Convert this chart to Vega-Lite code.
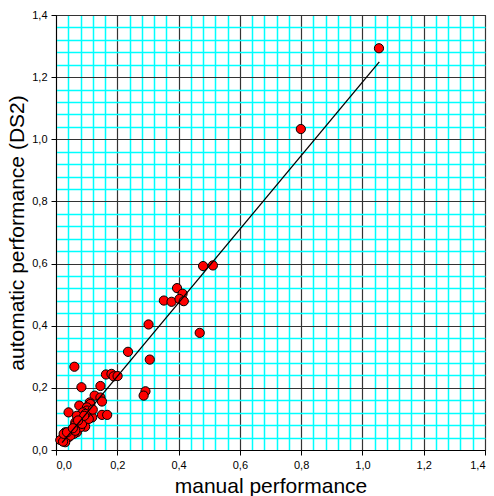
{
  "$schema": "https://vega.github.io/schema/vega-lite/v6.json",
  "autosize": "none",
  "width": 429,
  "height": 435,
  "padding": {"left": 56, "top": 15, "right": 9, "bottom": 46},
  "background": "white",
  "config": {
    "view": {"stroke": "black", "strokeWidth": 1},
    "font": "Liberation Sans",
    "axis": {
      "grid": true,
      "tickCount": 200,
      "gridColor": {"condition": {"test": "abs(datum.value*5 - round(datum.value*5)) < 0.001", "value": "#333333"}, "value": "#00FFFF"},
      "gridWidth": {"condition": {"test": "abs(datum.value*5 - round(datum.value*5)) < 0.001", "value": 1.2}, "value": 1.5},
      "gridOpacity": 1,
      "tickOpacity": {"condition": {"test": "abs(datum.value*5 - round(datum.value*5)) < 0.001", "value": 1}, "value": 0},
      "tickColor": "black",
      "tickSize": 5,
      "domainColor": "black",
      "labelExpr": "abs(datum.value*5 - round(datum.value*5)) < 0.001 ? replace(format(datum.value, '.1f'), '.', ',') : ''",
      "labelFontSize": 11,
      "labelColor": "black",
      "labelPadding": 4,
      "titleFontSize": 21,
      "titleFontWeight": "normal",
      "titleColor": "black",
      "labelOverlap": false
    }
  },
  "layer": [
    {
      "data": {"values": [
        {"manual": 1.054, "automatic": 1.293}, {"manual": 0.799, "automatic": 1.033},
        {"manual": 0.480, "automatic": 0.592}, {"manual": 0.512, "automatic": 0.594},
        {"manual": 0.395, "automatic": 0.521}, {"manual": 0.413, "automatic": 0.503},
        {"manual": 0.352, "automatic": 0.481}, {"manual": 0.377, "automatic": 0.477},
        {"manual": 0.403, "automatic": 0.486}, {"manual": 0.417, "automatic": 0.479},
        {"manual": 0.469, "automatic": 0.377}, {"manual": 0.302, "automatic": 0.404},
        {"manual": 0.235, "automatic": 0.316}, {"manual": 0.306, "automatic": 0.291},
        {"manual": 0.292, "automatic": 0.189}, {"manual": 0.286, "automatic": 0.175},
        {"manual": 0.060, "automatic": 0.268}, {"manual": 0.163, "automatic": 0.243},
        {"manual": 0.181, "automatic": 0.245}, {"manual": 0.188, "automatic": 0.237},
        {"manual": 0.201, "automatic": 0.238}, {"manual": 0.083, "automatic": 0.202},
        {"manual": 0.145, "automatic": 0.206}, {"manual": 0.126, "automatic": 0.175},
        {"manual": 0.145, "automatic": 0.169}, {"manual": 0.150, "automatic": 0.156},
        {"manual": 0.110, "automatic": 0.153}, {"manual": 0.076, "automatic": 0.143},
        {"manual": 0.107, "automatic": 0.143}, {"manual": 0.112, "automatic": 0.148},
        {"manual": 0.101, "automatic": 0.137}, {"manual": 0.101, "automatic": 0.127},
        {"manual": 0.041, "automatic": 0.121}, {"manual": 0.088, "automatic": 0.121},
        {"manual": 0.068, "automatic": 0.110}, {"manual": 0.118, "automatic": 0.105},
        {"manual": 0.103, "automatic": 0.105}, {"manual": 0.150, "automatic": 0.113},
        {"manual": 0.167, "automatic": 0.113}, {"manual": 0.063, "automatic": 0.089},
        {"manual": 0.090, "automatic": 0.094}, {"manual": 0.079, "automatic": 0.084},
        {"manual": 0.063, "automatic": 0.082}, {"manual": 0.095, "automatic": 0.075},
        {"manual": 0.047, "automatic": 0.057}, {"manual": 0.068, "automatic": 0.057},
        {"manual": 0.030, "automatic": 0.057}, {"manual": 0.058, "automatic": 0.052},
        {"manual": 0.025, "automatic": 0.041}, {"manual": 0.041, "automatic": 0.041},
        {"manual": 0.047, "automatic": 0.046}, {"manual": 0.020, "automatic": 0.030},
        {"manual": 0.030, "automatic": 0.025}, {"manual": 0.014, "automatic": 0.032},
        {"manual": 0.023, "automatic": 0.027}, {"manual": 0.025, "automatic": 0.052},
        {"manual": 0.079, "automatic": 0.073}, {"manual": 0.085, "automatic": 0.084},
        {"manual": 0.107, "automatic": 0.100}, {"manual": 0.096, "automatic": 0.116},
        {"manual": 0.063, "automatic": 0.062}, {"manual": 0.036, "automatic": 0.057},
        {"manual": 0.092, "automatic": 0.110}, {"manual": 0.120, "automatic": 0.130},
        {"manual": 0.055, "automatic": 0.070}, {"manual": 0.072, "automatic": 0.095}
      ]},
      "mark": {"type": "point", "shape": "circle", "filled": true, "fill": "#FF0000", "stroke": "black", "strokeWidth": 1, "size": 85, "opacity": 1},
      "encoding": {
        "x": {"field": "manual", "type": "quantitative", "scale": {"domain": [0, 1.4], "nice": false}, "title": "manual performance",
          "axis": {"titlePadding": 5, "tickCount": 200, "values": [0,0.04,0.08,0.12,0.16,0.2,0.24,0.28,0.32,0.36,0.4,0.44,0.48,0.52,0.56,0.6,0.64,0.68,0.72,0.76,0.8,0.84,0.88,0.92,0.96,1.0,1.04,1.08,1.12,1.16,1.2,1.24,1.28,1.32,1.36,1.4]}},
        "y": {"field": "automatic", "type": "quantitative", "scale": {"domain": [0, 1.4], "nice": false}, "title": "automatic performance (DS2)",
          "axis": {"titlePadding": 4, "tickCount": 200, "values": [0,0.04,0.08,0.12,0.16,0.2,0.24,0.28,0.32,0.36,0.4,0.44,0.48,0.52,0.56,0.6,0.64,0.68,0.72,0.76,0.8,0.84,0.88,0.92,0.96,1.0,1.04,1.08,1.12,1.16,1.2,1.24,1.28,1.32,1.36,1.4]}}
      }
    },
    {
      "data": {"values": [
        {"manual": 0.02, "automatic": 0.024},
        {"manual": 1.055, "automatic": 1.249}
      ]},
      "mark": {"type": "line", "color": "black", "strokeWidth": 1.3},
      "encoding": {
        "x": {"field": "manual", "type": "quantitative"},
        "y": {"field": "automatic", "type": "quantitative"}
      }
    }
  ]
}
